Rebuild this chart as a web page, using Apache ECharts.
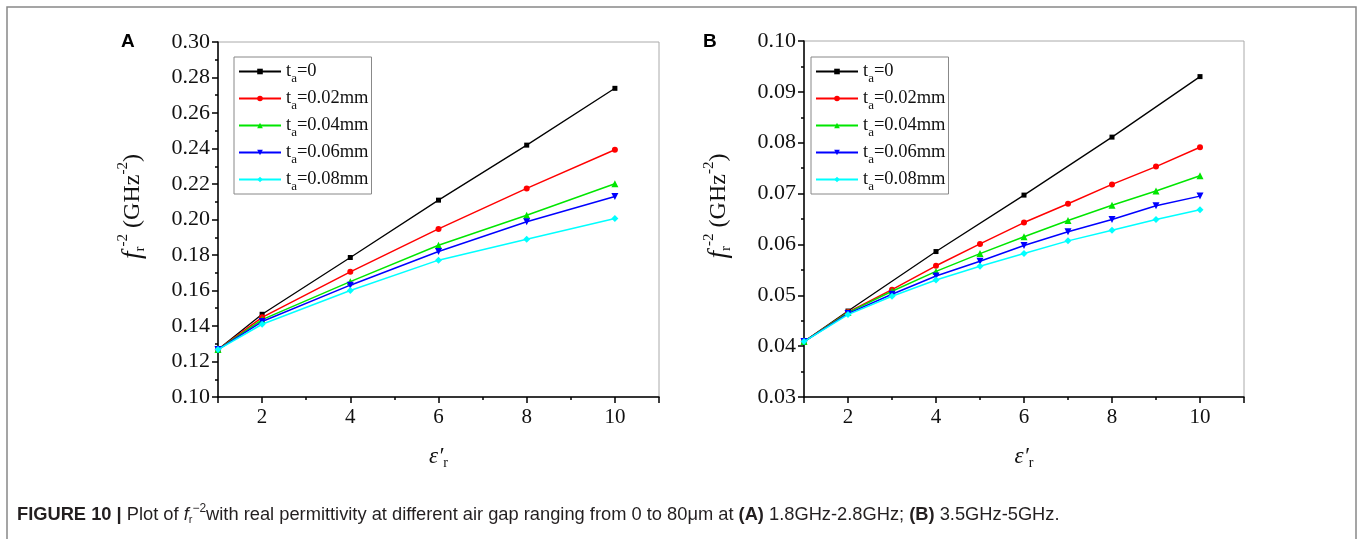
<!DOCTYPE html>
<html><head><meta charset="utf-8">
<script src="https://cdn.jsdelivr.net/npm/echarts@6/dist/echarts.min.js"></script>
<style>html,body{margin:0;padding:0;background:#fff}#c{width:1363px;height:539px}</style>
</head><body><div id="c"></div>
<script>
// ---- data ----
const gapLabels = ['0', '0.02mm', '0.04mm', '0.06mm', '0.08mm'];
const xA = [1, 2, 4, 6, 8, 10];
const aBlack = [0.1267, 0.1466, 0.1786, 0.2109, 0.2419, 0.2739];
const aRed   = [0.1267, 0.1449, 0.1705, 0.1947, 0.2175, 0.2393];
const aGreen = [0.1267, 0.1436, 0.1650, 0.1855, 0.2024, 0.2201];
const aBlue  = [0.1267, 0.1425, 0.1630, 0.1820, 0.1987, 0.2130];
const aCyan  = [0.1267, 0.1410, 0.1600, 0.1771, 0.1889, 0.2006];
const xBBlack = [1, 2, 4, 6, 8, 10];
const xB = [1, 2, 3, 4, 5, 6, 7, 8, 9, 10];
const bBlack = [0.0409, 0.0469, 0.0586, 0.0697, 0.0811, 0.0930];
const bRed   = [0.0409, 0.0467, 0.0511, 0.0558, 0.0601, 0.0643, 0.0680, 0.0718, 0.0753, 0.0791];
const bGreen = [0.0409, 0.0466, 0.0508, 0.0547, 0.0582, 0.0615, 0.0647, 0.0677, 0.0705, 0.0735];
const bBlue  = [0.0409, 0.0464, 0.0502, 0.0538, 0.0567, 0.0598, 0.0625, 0.0649, 0.0676, 0.0695];
const bCyan  = [0.0409, 0.0462, 0.0498, 0.0530, 0.0557, 0.0582, 0.0607, 0.0628, 0.0649, 0.0668];
const yRangeA = [0.10, 0.30, 0.02];
const yRangeB = [0.03, 0.10, 0.01];
const xRange = [1, 11];

// ---- styles ----
const colors = ['#000000', '#ff0000', '#00e600', '#0000ff', '#00ffff'];
const symbols = ['rect', 'circle', 'triangle', 'triangle', 'diamond'];
const symRot = [0, 0, 0, 180, 0];
const symSize = [5, 6, 7, 7, 7];
const SERIF = 'Liberation Serif';

function mk(idx, xs, ys, g) {
  return {
    type: 'line', name: gapLabels[idx], xAxisIndex: g, yAxisIndex: g,
    data: xs.map((x, i) => [x, ys[i]]),
    symbol: symbols[idx], symbolRotate: symRot[idx], symbolSize: symSize[idx],
    showSymbol: true, showAllSymbol: true,
    lineStyle: { color: colors[idx], width: idx === 0 ? 1.3 : 1.5 },
    itemStyle: { color: colors[idx] },
    z: 3 + idx, animation: false, clip: false
  };
}

const legendRich = {
  m: { fontFamily: SERIF, fontSize: 18.5, color: '#111', lineHeight: 19 },
  s: { fontFamily: SERIF, fontSize: 13, color: '#111', lineHeight: 13, padding: [14, 0, 0, 0] }
};
function legend(left, top) {
  return {
    orient: 'vertical', left: left, top: top, data: gapLabels,
    itemWidth: 42, itemHeight: 7, itemGap: 0,
    borderColor: '#888', borderWidth: 1, padding: [1, 3, 1, 4],
    backgroundColor: '#fff',
    formatter: n => '{m|t}{s|a}{m|=' + n + '}',
    textStyle: { rich: legendRich, padding: [0, 0, 0, 0] },
    selectedMode: false
  };
}

const axisLine = { lineStyle: { color: '#000', width: 1.5 } };
const xNameRich = {
  i: { fontFamily: SERIF, fontSize: 23, fontStyle: 'italic', color: '#111' },
  s: { fontFamily: SERIF, fontSize: 14, color: '#111', lineHeight: 14, padding: [14, 0, 0, 0] }
};
const yNameRich = {
  i: { fontFamily: SERIF, fontSize: 27, fontStyle: 'italic', color: '#111' },
  m: { fontFamily: SERIF, fontSize: 24, color: '#111' },
  s: { fontFamily: SERIF, fontSize: 15, color: '#111', lineHeight: 15, padding: [16, 0, 0, 0] },
  p: { fontFamily: SERIF, fontSize: 15, color: '#111', lineHeight: 15, padding: [0, 0, 18, 0] }
};
function xAxis(g) {
  return {
    gridIndex: g, type: 'value', min: xRange[0], max: xRange[1], splitNumber: 5,
    axisLine: axisLine,
    axisTick: { length: 6, lineStyle: { color: '#000', width: 1.5 } },
    minorTick: { show: true, splitNumber: 2, length: 3, lineStyle: { color: '#000', width: 1.5 } },
    splitLine: { show: false }, minorSplitLine: { show: false },
    axisLabel: { fontFamily: SERIF, fontSize: 21, color: '#111', margin: 10,
      formatter: v => (v === xRange[0] || v === xRange[1]) ? '' : String(v) },
    name: '{i|ε′}{s|r}', nameLocation: 'middle', nameGap: 48,
    nameTextStyle: { rich: xNameRich }
  };
}
function yAxis(g, r) {
  return {
    gridIndex: g, type: 'value', min: r[0], max: r[1], interval: r[2],
    axisLine: axisLine,
    axisTick: { length: 6, lineStyle: { color: '#000', width: 1.5 } },
    minorTick: { show: true, splitNumber: 2, length: 3, lineStyle: { color: '#000', width: 1.5 } },
    splitLine: { show: false }, minorSplitLine: { show: false },
    axisLabel: { fontFamily: SERIF, fontSize: 22, color: '#111', margin: 8,
      formatter: v => v.toFixed(2) },
    name: '{i|f}{s|r}{p|-2}{m| (GHz}{p|-2}{m|)}', nameLocation: 'middle', nameRotate: 90, nameGap: 72,
    nameTextStyle: { rich: yNameRich, padding: [0, 0, 0, 26] }
  };
}

const CF = 'Liberation Sans';
const capRich = {
  b: { fontFamily: CF, fontSize: 18.3, fontWeight: 'bold', fill: '#231f20', lineHeight: 22 },
  n: { fontFamily: CF, fontSize: 18.3, fill: '#231f20', lineHeight: 22 },
  i: { fontFamily: CF, fontSize: 18.3, fontStyle: 'italic', fill: '#231f20', lineHeight: 22 },
  s: { fontFamily: CF, fontSize: 11, fill: '#231f20', lineHeight: 11, padding: [11, 0, 0, 0] },
  p: { fontFamily: CF, fontSize: 12, fill: '#231f20', lineHeight: 12, padding: [0, 0, 11, 0] }
};

const chart = echarts.init(document.getElementById('c'), null, { renderer: 'canvas' });
chart.setOption({
  animation: false,
  backgroundColor: '#fff',
  grid: [
    { left: 218, top: 42, width: 441, height: 355, show: true, borderColor: '#aaa', borderWidth: 1 },
    { left: 804, top: 41, width: 440, height: 356, show: true, borderColor: '#aaa', borderWidth: 1 }
  ],
  xAxis: [xAxis(0), xAxis(1)],
  yAxis: [yAxis(0, yRangeA), yAxis(1, yRangeB)],
  legend: [legend(234, 57), legend(811, 57)],
  series: [
    mk(0, xA, aBlack, 0), mk(1, xA, aRed, 0), mk(2, xA, aGreen, 0), mk(3, xA, aBlue, 0), mk(4, xA, aCyan, 0),
    mk(0, xBBlack, bBlack, 1), mk(1, xB, bRed, 1), mk(2, xB, bGreen, 1), mk(3, xB, bBlue, 1), mk(4, xB, bCyan, 1)
  ],
  graphic: [
    { type: 'rect', shape: { x: 7, y: 7, width: 1349, height: 600 }, style: { fill: 'none', stroke: '#888', lineWidth: 1.5 }, silent: true },
    { type: 'text', left: 121, top: 32, style: { text: 'A', font: 'bold 19px "Liberation Sans"', fill: '#000' } },
    { type: 'text', left: 703, top: 32, style: { text: 'B', font: 'bold 19px "Liberation Sans"', fill: '#000' } },
    { type: 'text', left: 17, top: 503, style: {
        text: '{b|FIGURE 10 |}{n| Plot of }{i|f}{s|r}{p|−2}{n|with real permittivity at different air gap ranging from 0 to 80μm at }{b|(A)}{n| 1.8GHz-2.8GHz; }{b|(B)}{n| 3.5GHz-5GHz.}',
        rich: capRich } }
  ]
});
</script>
</body></html>
